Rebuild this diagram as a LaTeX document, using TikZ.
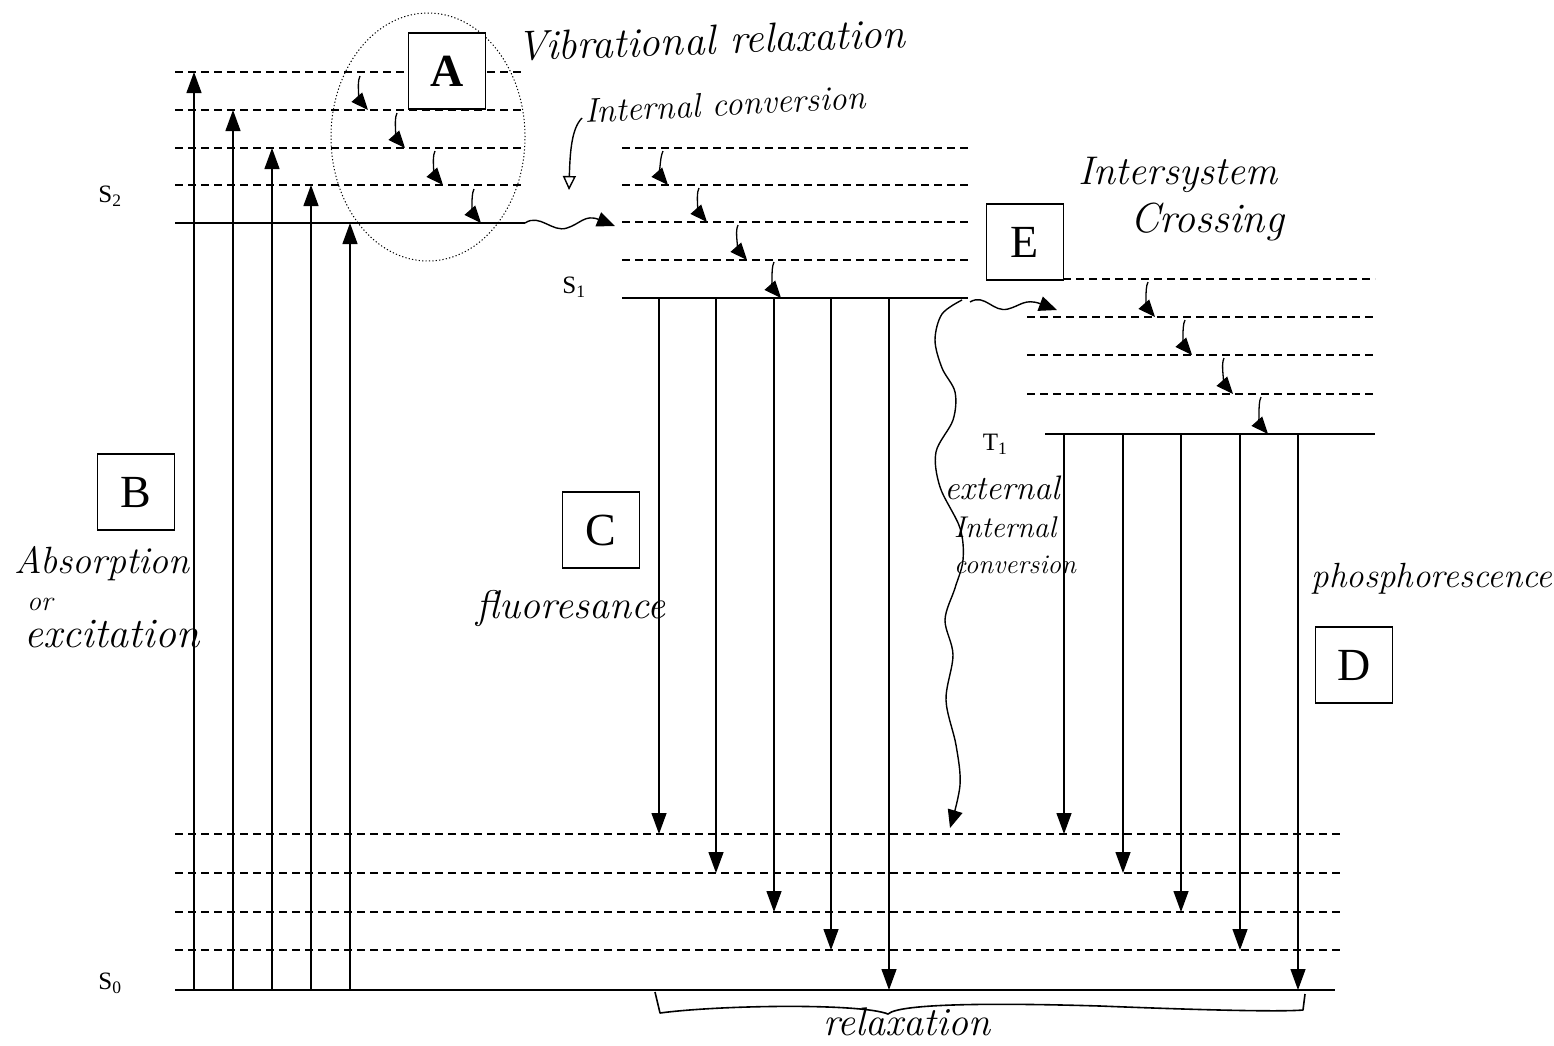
\documentclass[tikz,border=0pt]{standalone}
\usepackage{fontspec}
\newfontfamily\tnr{Liberation Serif}
\usetikzlibrary{arrows.meta,shapes.geometric}
\begin{document}
\begin{tikzpicture}[x=1pt,y=-1pt,
  lvl/.style={line width=1.7pt},
  dlvl/.style={line width=1.7pt, dash pattern=on 8pt off 5pt},
  arr/.style={line width=1.3pt, -{Triangle[length=21pt,width=15pt]}},
  sarr/.style={line width=1.3pt, -{Triangle[length=17pt,width=14pt]}},
  wavy/.style={line width=1.4pt, -{Triangle[length=18pt,width=15pt]}},
  lbox/.style={draw, line width=1.2pt, fill=white, minimum width=77pt, minimum height=76pt, inner sep=0pt, font=\tnr\fontsize{46}{46}\selectfont},
  hand/.style={font=\itshape\fontsize{#1}{#1}\selectfont, inner sep=0pt},
  hand/.default=30,
  slab/.style={font=\tnr\fontsize{25}{25}\selectfont, inner sep=0pt}
]
\useasboundingbox[fill=white] (0,0) rectangle (1554,1045);

% ---------- S2 levels ----------
\foreach \y [count=\i] in {72,110,148,185}{
  \coordinate (s2l\i) at (175,\y); \coordinate (s2r\i) at (523,\y);
  \draw[dlvl] (s2l\i) -- (s2r\i);
}
\coordinate (s2l) at (175,223); \coordinate (s2r) at (525,223);
\draw[lvl] (s2l) -- (s2r);

% ---------- S1 levels ----------
\foreach \y [count=\i] in {148,185,222,260}{
  \coordinate (s1l\i) at (622,\y); \coordinate (s1r\i) at (968,\y);
  \draw[dlvl] (s1l\i) -- (s1r\i);
}
\coordinate (s1l) at (622,298); \coordinate (s1r) at (968,298);
\draw[lvl] (s1l) -- (s1r);

% ---------- T1 levels ----------
\foreach \y/\xs [count=\i] in {279/1063,317/1027,355/1027,394/1027}{
  \coordinate (t1l\i) at (\xs,\y); \coordinate (t1r\i) at (1375,\y);
  \draw[dlvl] (t1l\i) -- (t1r\i);
}
\coordinate (t1l) at (1045,434); \coordinate (t1r) at (1375,434);
\draw[lvl] (t1l) -- (t1r);

% ---------- S0 levels ----------
\foreach \y [count=\i] in {834,873,912,950}{
  \coordinate (s0l\i) at (175,\y); \coordinate (s0r\i) at (1340,\y);
  \draw[dlvl] (s0l\i) -- (s0r\i);
}
\coordinate (s0l) at (175,990); \coordinate (s0r) at (1335,990);
\draw[lvl] (s0l) -- (s0r);

% ---------- absorption arrows ----------
\foreach \x/\y [count=\i] in {194/72,233/110,272/148,311/185,350/223}{
  \coordinate (ab\i) at (\x,990); \coordinate (ae\i) at (\x,\y);
  \draw[arr] (ab\i) -- (ae\i);
}

% ---------- fluorescence arrows ----------
\foreach \x/\y [count=\i] in {659/834,716/873,774/912,831/950,889/990}{
  \coordinate (fb\i) at (\x,298); \coordinate (fe\i) at (\x,\y);
  \draw[arr] (fb\i) -- (fe\i);
}

% ---------- phosphorescence arrows ----------
\foreach \x/\y [count=\i] in {1064/834,1123/873,1181/912,1240/950,1298/990}{
  \coordinate (pb\i) at (\x,434); \coordinate (pe\i) at (\x,\y);
  \draw[arr] (pb\i) -- (pe\i);
}

% ---------- vibrational relaxation squiggles ----------
\foreach \xa/\ya/\xb/\yb [count=\i] in {360/76/368/110, 397/113/405/148, 435/151/443/185, 474/189/481/223,
  663/151/668/185, 699/188/707/222, 738/225/747/260, 774/262/781/298,
  1148/282/1155/317, 1185/320/1192/355, 1224/358/1233/394, 1261/397/1268/434}{
  \coordinate (va\i) at (\xa,\ya); \coordinate (vb\i) at (\xb,\yb);
  \draw[sarr] (va\i) .. controls ++(-4,8) and ++(-7,-8) .. (vb\i);
}

% ---------- dotted ring ----------
\node (ring) [draw, ellipse, line width=1pt, dash pattern=on 1.2pt off 2.2pt,
  minimum width=194pt, minimum height=248pt, inner sep=0pt] at (428,137) {};

% ---------- internal conversion wavy arrow ----------
\coordinate (icE) at (615,226);
\draw[wavy] (s2r) .. controls (540,213) and (552,233) .. (567,228)
  .. controls (580,224) and (585,214) .. (icE);

% ---------- intersystem crossing wavy arrow ----------
\coordinate (iscS) at (970,302);
\coordinate (iscE) at (1057,310);
\draw[wavy] (iscS) .. controls (985,293) and (993,313) .. (1008,309)
  .. controls (1020,306) and (1025,298) .. (iscE);

% ---------- external / internal conversion wavy line ----------
\coordinate (eicS) at (962,300);
\coordinate (eicE) at (950,828);
\draw[wavy] plot[smooth, tension=0.55] coordinates {(eicS) (942,314) (935,340) (942,368) (955,392) (953,420) (936,452) (940,487) (960,528) (963,560) (955,588) (945,620) (953,655) (946,700) (956,745) (960,785) (eicE)};

% ---------- pointer from "Internal conversion" ----------
\coordinate (ptS) at (582,118);
\coordinate (ptE) at (569,190);
\draw[line width=1.4pt, -{Triangle[open, length=14pt, width=13pt]}] (ptS) .. controls (572,128) and (570,150) .. (ptE);

% ---------- relaxation brace ----------
\coordinate (brL) at (655,992);
\coordinate (brR) at (1305,994);
\draw[line width=1.6pt, line join=round] (brL) -- (660,1013) .. controls (720,1005) and (860,1003) .. (888,1014)
  .. controls (900,1003) and (1000,1003) .. (1100,1006) .. controls (1200,1010) and (1280,1012) .. (1303,1010) -- (brR);

% ---------- boxes ----------
\node[lbox, font=\tnr\bfseries\fontsize{46}{46}\selectfont] (A) at (447,71) {A};
\node[lbox] (B) at (136,492) {B};
\node[lbox] (C) at (601,530) {C};
\node[lbox] (D) at (1354,665) {D};
\node[lbox] (E) at (1025,242) {E};

% ---------- state labels ----------
\node[slab] (S2) at (110,196) {S\textsubscript{2}};
\node[slab] (S1) at (574,287) {S\textsubscript{1}};
\node[slab] (S0) at (110,983) {S\textsubscript{0}};
\node[slab] (T1) at (995,444) {T\textsubscript{1}};

% ---------- handwritten labels ----------
\node[hand=42, rotate=2] (vr) at (711,40) {Vibrational relaxation};
\node[hand=34, rotate=3] (ic) at (725,104) {Internal conversion};
\node[hand=40] (isc1) at (1178,175) {Intersystem};
\node[hand=42] (isc2) at (1207,222) {Crossing};
\node[hand=38] (abs1) at (102,564) {Absorption};
\node[hand=28] (abs2) at (40,604) {or};
\node[hand=42] (abs3) at (112,634) {excitation};
\node[hand=40] (flu) at (571,608) {fluoresance};
\node[hand=35] (pho) at (1432,579) {phosphorescence};
\node[hand=34] (ex1) at (1002,488) {external};
\node[hand=30] (ex2) at (1005,527) {Internal};
\node[hand=27] (ex3) at (1015,565) {conversion};
\node[hand=40] (rel) at (907,1022) {relaxation};
\end{tikzpicture}
\end{document}
